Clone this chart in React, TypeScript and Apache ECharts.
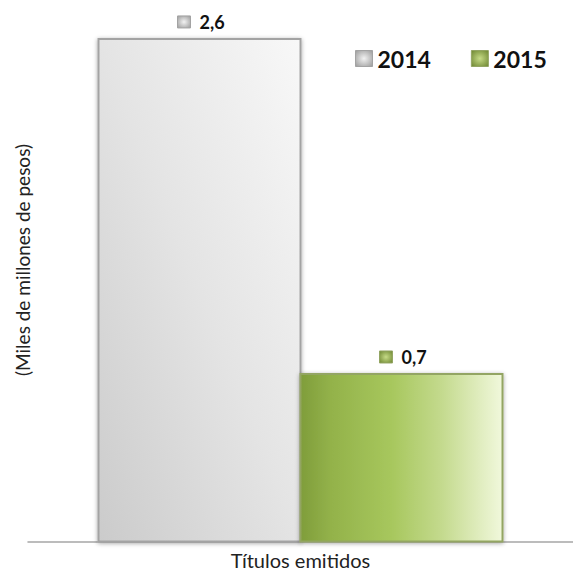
import React, { useEffect, useRef } from "react";
import * as echarts from "echarts";

const categories = ["Títulos emitidos"];
const seriesNames = ["2014", "2015"];
const values2014 = [2.6];
const values2015 = [0.7];
const yAxisName = "(Miles de millones de pesos)";

const FONT = "Lato, 'Open Sans', 'DejaVu Sans', sans-serif";

const barFills = [
  new echarts.graphic.LinearGradient(0, 1, 1, 0, [
    { offset: 0, color: "#cbcbcb" },
    { offset: 0.5, color: "#e4e4e4" },
    { offset: 1, color: "#f8f8f8" },
  ]),
  new echarts.graphic.LinearGradient(0, 0, 1, 0, [
    { offset: 0, color: "#7f9d3b" },
    { offset: 0.15, color: "#93b24a" },
    { offset: 0.45, color: "#a7c75d" },
    { offset: 0.7, color: "#c4da8e" },
    { offset: 1, color: "#f1f8dc" },
  ]),
];
const iconFills = [
  new echarts.graphic.RadialGradient(0.5, 0.5, 0.7, [
    { offset: 0, color: "#f2f2f2" },
    { offset: 1, color: "#9a9a9a" },
  ]),
  new echarts.graphic.RadialGradient(0.5, 0.5, 0.7, [
    { offset: 0, color: "#c6db86" },
    { offset: 1, color: "#6c8530" },
  ]),
];
const strokes = ["#a3a3a3", "#93a563"];

function makeRender(idx: number) {
  return (params: any, api: any) => {
    const val = api.value(1);
    const pt = api.coord([api.value(0), val]);
    const cs = params.coordSys;
    const bottom = cs.y + cs.height;
    const barW = 202;
    const x = idx === 0 ? pt[0] - barW : pt[0];
    const cx = x + barW / 2;
    const label = val.toFixed(1).replace(".", ",");
    return {
      type: "group",
      children: [
        {
          type: "rect",
          shape: { x, y: pt[1], width: barW, height: bottom - pt[1] },
          style: {
            fill: barFills[idx],
            stroke: strokes[idx],
            lineWidth: 2,
            shadowBlur: 4,
            shadowColor: "rgba(0,0,0,0.35)",
            shadowOffsetX: 0,
            shadowOffsetY: 1,
          },
        },
        {
          type: "rect",
          shape: { x: cx - 22, y: pt[1] - 23, width: 13, height: 12 },
          style: { fill: iconFills[idx], stroke: strokes[idx], lineWidth: 1 },
        },
        {
          type: "text",
          x: cx,
          y: pt[1] - 17,
          style: {
            text: label,
            fill: "#111",
            font: `bold 18px ${FONT}`,
            align: "left",
            verticalAlign: "middle",
          },
        },
      ],
    };
  };
}

export default function App() {
  const ref = useRef<HTMLDivElement>(null);
  useEffect(() => {
    if (!ref.current) return;
    const chart = echarts.init(ref.current, null, { renderer: "svg" });
    const seriesData = [values2014, values2015];
    chart.setOption({
      animation: false,
      backgroundColor: "#ffffff",
      grid: { left: 28, right: 0, top: 12.5, bottom: 31.5 },
      legend: {
        left: 350,
        top: 42,
        itemWidth: 17,
        itemHeight: 16,
        itemGap: 40,
        textStyle: { fontFamily: FONT, fontSize: 23, fontWeight: "bold", color: "#111" },
        data: seriesNames.map((n, i) => ({
          name: n,
          icon: "rect",
          itemStyle: { color: iconFills[i], borderColor: strokes[i], borderWidth: 1 },
        })),
      },
      graphic: [
        {
          type: "text",
          x: 22,
          y: 260,
          rotation: Math.PI / 2,
          style: {
            text: yAxisName,
            fill: "#222",
            font: `19px ${FONT}`,
            align: "center",
            verticalAlign: "middle",
          },
        },
      ],
      xAxis: {
        type: "category",
        data: categories,
        axisLine: { onZero: false, lineStyle: { color: "#a6a6a6", width: 1.5 } },
        axisTick: { show: false },
        axisLabel: { fontFamily: FONT, fontSize: 20, color: "#222", margin: 8 },
      },
      yAxis: {
        type: "value",
        min: -0.25,
        max: 2.75,
        show: true,
        axisLine: { show: false },
        axisTick: { show: false },
        axisLabel: { show: false },
        splitLine: { show: false },
      },
      series: seriesNames.map((n, i) => ({
        type: "custom",
        name: n,
        itemStyle: { color: iconFills[i] },
        data: seriesData[i].map((v, j) => [j, v]),
        renderItem: makeRender(i),
      })),
    });
    return () => chart.dispose();
  }, []);
  return (
    <div
      ref={ref}
      style={{ position: "absolute", left: 0, top: 0, width: 573, height: 573 }}
    />
  );
}
